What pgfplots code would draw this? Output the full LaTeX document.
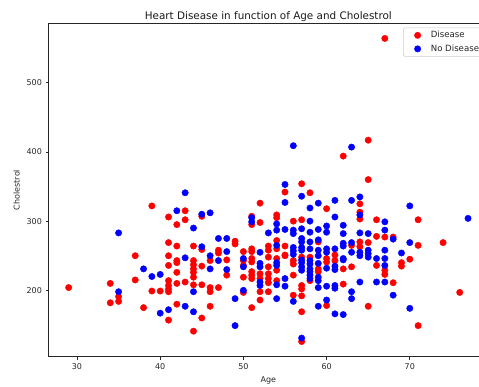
\documentclass[border=0pt]{standalone}
\usepackage{pgfplots}
\pgfplotsset{compat=1.18}
\usepackage{fontspec}
\setmainfont{DejaVu Sans}
\definecolor{mred}{rgb}{1,0,0}
\definecolor{mblue}{rgb}{0,0,1}
\begin{document}
\begin{tikzpicture}
\begin{axis}[
  scale only axis,
  width=439.3pt, height=333.4pt,
  xmin=26.6, xmax=79.4, ymin=104.1, ymax=585.9,
  axis x line=box, axis y line*=left,
  xtick={30,40,50,60,70}, ytick={200,300,400,500},
  minor tick num=0,
  tick pos=left,
  tick align=outside,
  major tick length=2.8pt,
  tick style={black!85, line width=0.6pt},
  axis line style={-, black!85, line width=0.6pt},
  /pgf/number format/assume math mode=true,
  ticklabel style={font=\fontsize{8}{9.6}\selectfont, text=black!85},
  xticklabel style={yshift=-0.5pt},
  yticklabel style={xshift=-0.5pt},
  title={Heart Disease in function of Age and Cholestrol},
  title style={font=\fontsize{10.4}{12.5}\selectfont, text=black!90, yshift=-8pt},
  xlabel={Age}, ylabel={Cholestrol},
  label style={font=\fontsize{8}{9.6}\selectfont, text=black!85},
  legend style={at={(0.807,0.987)}, anchor=north west, draw=black!20, rounded corners=1.5pt,
    font=\fontsize{8.6}{10}\selectfont, text=black!85, inner xsep=2pt, inner ysep=1.5pt, row sep=1.5pt},
  legend cell align=left,
  legend image code/.code={\path (0pt,0pt) (23pt,0pt); \draw[#1] plot coordinates {(12pt,0pt)};},
  every axis plot/.append style={only marks, mark=*, mark size=3.2pt},
]
\coordinate (o) at (rel axis cs:0,0);
\addplot[mred, mark options={draw=mred, fill=mred}] coordinates {
(29,204)
(34,210) (34,182)
(35,191) (35,184)
(37,250) (37,215)
(38,175)
(39,322) (39,199)
(40,199)
(41,306) (41,269) (41,250) (41,236) (41,214) (41,207) (41,202) (41,198) (41,157)
(42,295) (42,264) (42,243) (42,240) (42,226) (42,210) (42,180)
(43,315) (43,302) (43,212)
(44,264) (44,243) (44,237) (44,231) (44,226) (44,219) (44,208) (44,141)
(45,307) (45,259) (45,235) (45,208) (45,160)
(46,243) (46,204) (46,198) (46,177)
(47,258) (47,254) (47,204)
(48,244) (48,222)
(49,271) (49,267)
(50,256) (50,243) (50,236) (50,219) (50,197)
(51,307) (51,295) (51,260) (51,256) (51,246) (51,241) (51,227) (51,222) (51,217) (51,175)
(52,326) (52,298) (52,224) (52,217) (52,198) (52,186)
(53,264) (53,258) (53,248) (53,234) (53,224) (53,217) (53,211) (53,198)
(54,309) (54,305) (54,272) (54,260) (54,246) (54,229) (54,214)
(55,342) (55,264) (55,251) (55,250)
(56,300) (56,243) (56,238) (56,222) (56,193)
(57,354) (57,302) (57,248) (57,207) (57,202) (57,192) (57,169) (57,126)
(58,341) (58,248) (58,214)
(59,270) (59,231) (59,227)
(60,318) (60,246) (60,241) (60,178)
(61,251) (61,243)
(62,394) (62,231) (62,209)
(63,265) (63,234)
(64,325) (64,313) (64,303) (64,270) (64,263)
(65,417) (65,360) (65,269) (65,177)
(66,302) (66,278) (66,236)
(67,564) (67,277) (67,229) (67,223)
(68,277) (68,211)
(69,240) (69,235)
(70,245)
(71,302) (71,265) (71,149)
(74,269)
(76,197)
};
\addlegendentry{Disease}
\addplot[mblue, mark options={draw=mblue, fill=mblue}] coordinates {
(35,283) (35,198)
(38,231)
(39,220)
(40,223) (40,167)
(41,172)
(42,315)
(43,341) (43,247) (43,177)
(44,290) (44,198) (44,169)
(45,310) (45,263)
(46,312) (46,250) (46,231)
(47,275) (47,243)
(48,275) (48,256) (48,230)
(49,188) (49,149)
(50,246) (50,234) (50,200)
(51,305) (51,299)
(52,255) (52,239) (52,234) (52,212) (52,207)
(53,283)
(54,296) (54,287) (54,265) (54,240) (54,236) (54,208) (54,188)
(55,353) (55,327) (55,288) (55,217) (55,206)
(56,409) (56,287) (56,282) (56,262) (56,257) (56,252) (56,184)
(57,336) (57,289) (57,275) (57,270) (57,262) (57,258) (57,244) (57,240) (57,234) (57,229) (57,131)
(58,319) (58,300) (58,284) (58,270) (58,260) (58,243) (58,238) (58,231) (58,227) (58,222) (58,217)
(59,326) (59,288) (59,273) (59,258) (59,250) (59,239) (59,219) (59,214) (59,204) (59,177)
(60,293) (60,284) (60,260) (60,255) (60,232) (60,206) (60,186)
(61,330) (61,306) (61,260) (61,235) (61,230) (61,207) (61,203) (61,166)
(62,294) (62,282) (62,268) (62,264) (62,246) (62,244) (62,165)
(63,407) (63,330) (63,269) (63,255) (63,198) (63,188)
(64,335) (64,309) (64,283) (64,255) (64,250) (64,212)
(65,282) (65,258) (65,253) (65,248)
(66,246) (66,212)
(67,299) (67,287) (67,258) (67,246) (67,236) (67,212)
(68,274) (68,193)
(69,254)
(70,322) (70,269) (70,174)
(77,304)
};
\addlegendentry{No Disease}
\end{axis}
\pgfresetboundingbox
\path[use as bounding box] ([xshift=-48.7pt,yshift=-29.3pt]o) rectangle ++(479pt,386pt);
\end{tikzpicture}
\end{document}
